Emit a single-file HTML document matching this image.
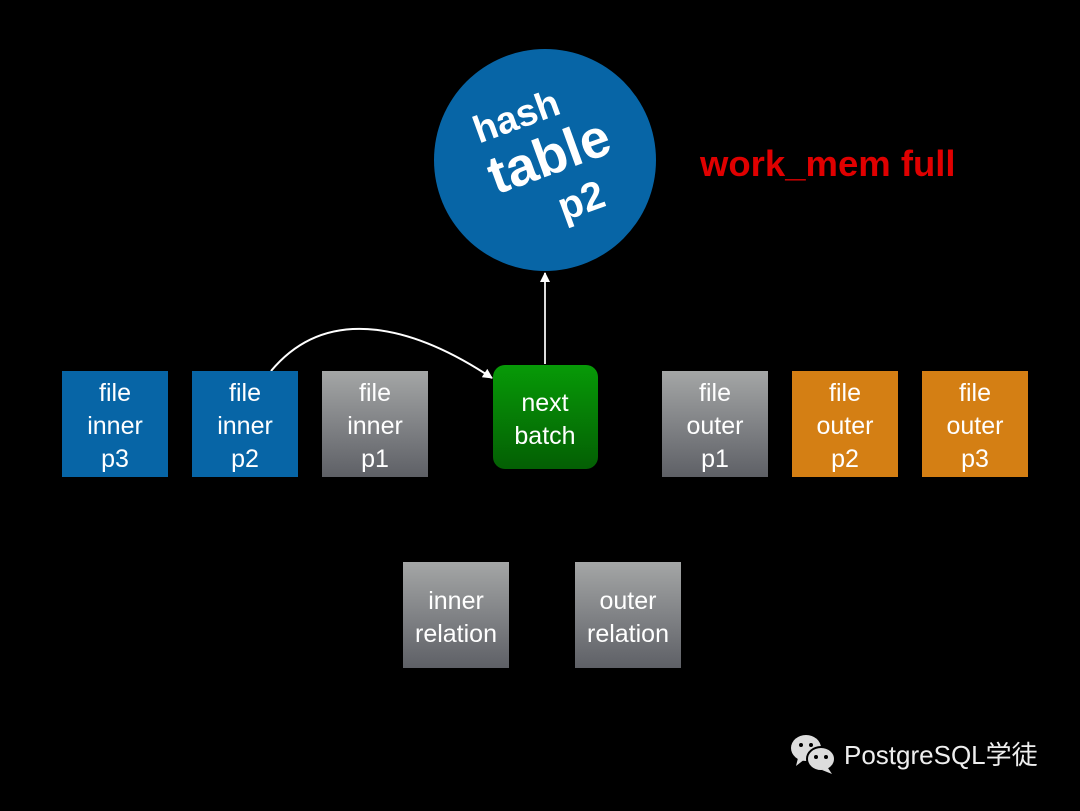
<!DOCTYPE html>
<html><head><meta charset="utf-8"><style>
body{margin:0;background:#000;width:1080px;height:806px;overflow:hidden;font-family:"Liberation Sans",sans-serif}
</style></head><body>
<svg width="1080" height="806" xmlns="http://www.w3.org/2000/svg">
<defs>
<linearGradient id="g" x1="0" y1="0" x2="0" y2="1"><stop offset="0" stop-color="#a4a6a6"/><stop offset="1" stop-color="#5e6066"/></linearGradient>
<linearGradient id="gr" x1="0" y1="0" x2="0" y2="1"><stop offset="0" stop-color="#079a07"/><stop offset="1" stop-color="#045f04"/></linearGradient>
<marker id="a" markerWidth="10" markerHeight="10" refX="9" refY="5" orient="auto" markerUnits="userSpaceOnUse"><path d="M0,0 L10,5 L0,10 Z" fill="#fff"/></marker>
</defs>
<rect width="1080" height="806" fill="#000"/>
<circle cx="545" cy="160" r="111" fill="#0765a6"/>
<g transform="rotate(-20 545 160)" fill="#fff" font-weight="bold" text-anchor="middle">
<text x="533" y="122" font-size="38">hash</text>
<text x="550" y="176" font-size="54">table</text>
<text x="565" y="224" font-size="40">p2</text>
</g>
<text x="700" y="176" fill="#e00000" font-size="36.5" font-weight="bold">work_mem full</text>
<line x1="545" y1="364" x2="545" y2="273" stroke="#ddd" stroke-width="2" marker-end="url(#a)"/>
<path d="M271,371 C330,300 420,330 492,378" fill="none" stroke="#fff" stroke-width="2" marker-end="url(#a)"/>
<g font-size="25" fill="#fff" text-anchor="middle">
<rect x="62" y="371" width="106" height="106" fill="#0765a6"/>
<text x="115" y="401">file</text><text x="115" y="434">inner</text><text x="115" y="467">p3</text>
<rect x="192" y="371" width="106" height="106" fill="#0765a6"/>
<text x="245" y="401">file</text><text x="245" y="434">inner</text><text x="245" y="467">p2</text>
<rect x="322" y="371" width="106" height="106" fill="url(#g)"/>
<text x="375" y="401">file</text><text x="375" y="434">inner</text><text x="375" y="467">p1</text>
<rect x="493" y="365" width="105" height="104" rx="12" fill="url(#gr)"/>
<text x="545" y="411">next</text><text x="545" y="444">batch</text>
<rect x="662" y="371" width="106" height="106" fill="url(#g)"/>
<text x="715" y="401">file</text><text x="715" y="434">outer</text><text x="715" y="467">p1</text>
<rect x="792" y="371" width="106" height="106" fill="#d47f14"/>
<text x="845" y="401">file</text><text x="845" y="434">outer</text><text x="845" y="467">p2</text>
<rect x="922" y="371" width="106" height="106" fill="#d47f14"/>
<text x="975" y="401">file</text><text x="975" y="434">outer</text><text x="975" y="467">p3</text>
<rect x="403" y="562" width="106" height="106" fill="url(#g)"/>
<text x="456" y="609">inner</text><text x="456" y="642">relation</text>
<rect x="575" y="562" width="106" height="106" fill="url(#g)"/>
<text x="628" y="609">outer</text><text x="628" y="642">relation</text>
</g>
<g fill="#ddd">
<ellipse cx="806" cy="748" rx="15" ry="13"/><path d="M798,758 L796,766 L805,759 Z"/>
<ellipse cx="821" cy="759" rx="14" ry="12" stroke="#000" stroke-width="2"/><path d="M828,768 L832,774 L822,770 Z"/>
</g>
<g fill="#000"><circle cx="801" cy="745" r="2"/><circle cx="811" cy="745" r="2"/><circle cx="816" cy="757" r="2"/><circle cx="826" cy="757" r="2"/></g>
<text x="844" y="764" font-size="26" fill="#eee" font-family="'Liberation Sans','Noto Sans CJK SC',sans-serif">PostgreSQL学徒</text>
</svg>
</body></html>
